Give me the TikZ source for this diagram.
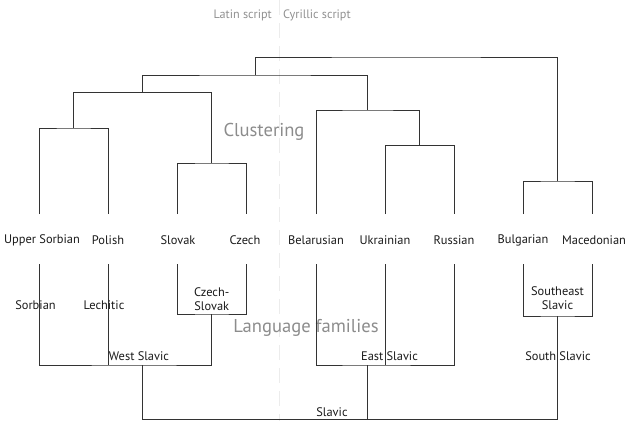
\documentclass[tikz,border=0pt]{standalone}
\usepackage{fontspec}
\setmainfont{PT Sans}
\definecolor{linecol}{HTML}{333333}
\definecolor{labcol}{HTML}{1A1A1A}
\definecolor{bigcol}{HTML}{8C8C8C}
\definecolor{scriptcol}{HTML}{909090}
\definecolor{dashcol}{HTML}{ECECEC}
\begin{document}
\begin{tikzpicture}[x=1pt,y=-1pt,
  tree/.style={draw=linecol,line width=0.9pt},
  lab/.style={text=labcol,font=\fontsize{12.4}{14.3}\selectfont,inner sep=0pt},
  fam/.style={lab,align=center},
  big/.style={text=bigcol,font=\fontsize{18.6}{21}\selectfont,inner sep=0pt},
  scr/.style={text=scriptcol,font=\fontsize{12.2}{14}\selectfont,inner sep=0pt},
  sep/.style={draw=dashcol,line width=0.9pt,dash pattern=on 15pt off 8pt}]
\useasboundingbox (0,0) rectangle (628,421);
% script separator
\coordinate (septop) at (279.5,0);
\coordinate (sepbot) at (279.5,421);
\draw[sep] (septop) -- (sepbot);
\node[scr,anchor=east] (latin) at (272,15) {Latin script};
\node[scr,anchor=west] (cyr) at (283,15) {Cyrillic script};
\node[big] (clu) at (264,131.5) {Clustering};
\node[big] (lf) at (306,327.5) {Language families};
% leaves
\node[lab] (us) at (42,240) {Upper Sorbian};
\node[lab] (pl) at (108,240) {Polish};
\node[lab] (sk) at (178,240) {Slovak};
\node[lab] (cz) at (245,240) {Czech};
\node[lab] (be) at (316,240) {Belarusian};
\node[lab] (uk) at (385,240) {Ukrainian};
\node[lab] (ru) at (454,240) {Russian};
\node[lab] (bg) at (523,240) {Bulgarian};
\node[lab] (mk) at (594,240) {Macedonian};
% leaf ends
\foreach \n/\x in {1/39,2/108,3/177,4/246.5,5/316,6/385,7/454,8/523,9/592}{
  \coordinate (t\n) at (\x,214);
  \coordinate (b\n) at (\x,264);
}
% clustering (top)
\coordinate (jsp) at (73.5,128);
\coordinate (jsc) at (211.75,163);
\coordinate (jw) at (142.6,92.5);
\coordinate (jur) at (419.5,145.5);
\coordinate (je) at (367.75,110);
\coordinate (jwe) at (255.2,75);
\coordinate (jbm) at (557.5,181);
\coordinate (jtop) at (406,57);
\draw[tree] (t1) |- (jsp) -| (t2);
\draw[tree] (t3) |- (jsc) -| (t4);
\draw[tree] (jsp) |- (jw) -| (jsc);
\draw[tree] (t6) |- (jur) -| (t7);
\draw[tree] (t5) |- (je) -| (jur);
\draw[tree] (jw) |- (jwe) -| (je);
\draw[tree] (t8) |- (jbm) -| (t9);
\draw[tree] (jwe) |- (jtop) -| (jbm);
% language families (bottom)
\coordinate (fcs) at (211.75,314);
\coordinate (fw) at (142.6,365);
\coordinate (fpl) at (108,365);
\coordinate (fe) at (367.75,365);
\coordinate (fbe) at (316,365);
\coordinate (fuk) at (385,365);
\coordinate (fse) at (557.5,316);
\coordinate (fsl) at (367.75,419.5);
\draw[tree] (b3) |- (fcs) -| (b4);
\draw[tree] (b1) |- (fw) -| (fcs);
\draw[tree] (b2) -- (fpl);
\draw[tree] (b5) |- (fe) -| (b7);
\draw[tree] (b6) -- (fuk);
\draw[tree] (b8) |- (fse) -| (b9);
\draw[tree] (fw) |- (fsl) -| (fse);
\draw[tree] (fe) -- (fsl);
% family labels
\node[lab] (sorb) at (35.5,305.5) {Sorbian};
\node[lab] (lech) at (104,305.5) {Lechitic};
\node[fam] (czsk) at (211.75,299) {Czech-\\Slovak};
\node[lab] (west) at (139,356) {West Slavic};
\node[lab] (east) at (389.5,356) {East Slavic};
\node[fam] (sest) at (557.5,298.5) {Southeast\\Slavic};
\node[lab] (south) at (558,356) {South Slavic};
\node[lab] (slav) at (332,412.5) {Slavic};
\end{tikzpicture}
\end{document}
